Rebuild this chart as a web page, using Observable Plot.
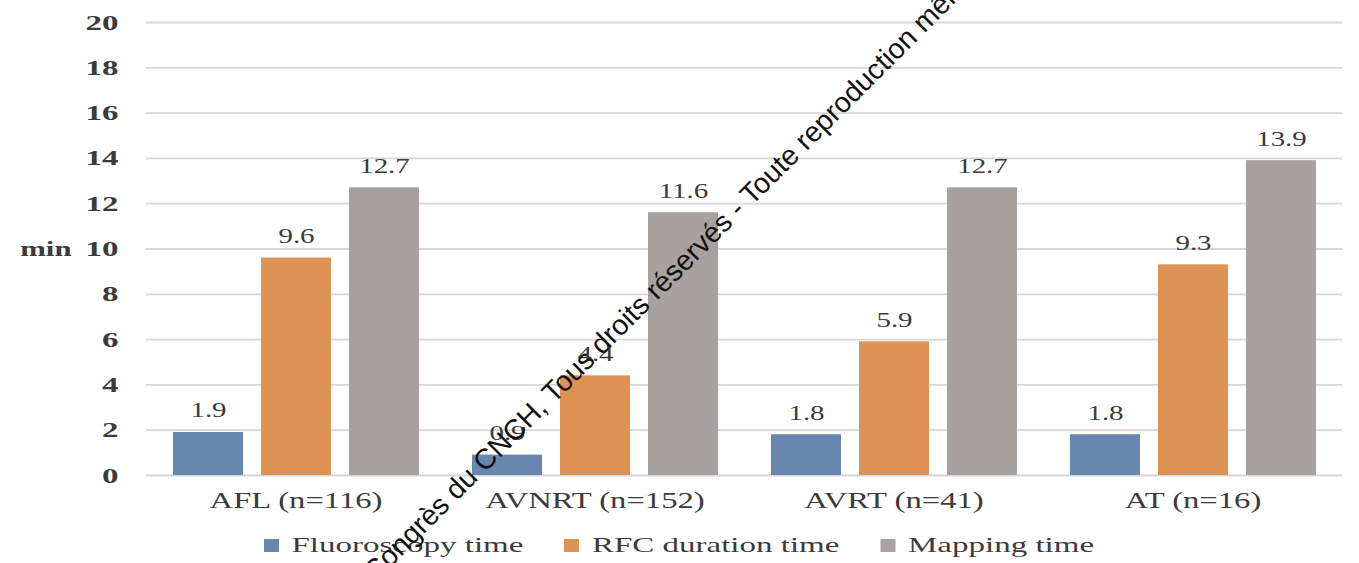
<!DOCTYPE html>
<html>
<head>
<meta charset="utf-8">
<script src="https://cdn.jsdelivr.net/npm/d3@7"></script>
<script src="https://cdn.jsdelivr.net/npm/@observablehq/plot@0.6"></script>
<style>
  html, body { margin: 0; padding: 0; background: #fff; }
  #wrap { position: relative; width: 1359px; height: 563px; overflow: hidden; background: #fff; }
  #chart { position: absolute; left: 0; top: 0; }
  #legend {
    position: absolute; left: 0; top: 532px; width: 1359px;
    display: flex; justify-content: center; align-items: center;
    font-family: "Liberation Serif", "Times New Roman", serif; font-size: 22px; color: #3b3b3b;
    transform: scaleX(1.5); transform-origin: 681px 50%;
  }
  #legend .item { display: flex; align-items: center; margin: 0 13.5px; }
  #legend .swatch { width: 10px; height: 13px; margin-right: 8.7px; }
  #legend .label { white-space: nowrap; line-height: normal; }
  #stamp { position: absolute; left: 0; top: 0; pointer-events: none; }
</style>
</head>
<body>
<div id="wrap">
  <div id="chart"></div>
  <div id="legend"></div>
  <svg id="stamp" width="1359" height="563"></svg>
</div>
<script>
// Procedure times by arrhythmia type (minutes)
const categories = ["AFL (n=116)", "AVNRT (n=152)", "AVRT (n=41)", "AT (n=16)"];
const series = ["Fluoroscopy time", "RFC duration time", "Mapping time"];
const fluoroscopyTime = [1.9, 0.9, 1.8, 1.8];
const rfcDurationTime = [9.6, 4.4, 5.9, 9.3];
const mappingTime = [12.7, 11.6, 12.7, 13.9];
const yTicks = [0, 2, 4, 6, 8, 10, 12, 14, 16, 18, 20];
const yUnit = "min";
const seriesColors = ["#6886b0", "#de9253", "#a7a29f"];
const stampText = "Congrès du CNCH, Tous droits réservés - Toute reproduction même partielle interdite";

const seriesValues = [fluoroscopyTime, rfcDurationTime, mappingTime];
const rows = categories.flatMap((category, i) =>
  series.map((s, j) => ({category, series: s, value: seriesValues[j][i]}))
);

const textColor = "#3b3b3b";

const chart = Plot.plot({
  width: 1359,
  height: 525,
  marginTop: 22,
  marginBottom: 50,
  marginLeft: 145,
  marginRight: 17,
  style: {fontFamily: "'Liberation Serif', 'Times New Roman', serif", color: textColor, background: "transparent"},
  fx: {domain: categories, padding: 0, label: null},
  x: {domain: series, paddingInner: 0.205, paddingOuter: 0.295, axis: null},
  y: {domain: [0, 20], axis: null},
  color: {domain: series, range: seriesColors},
  marks: [
    Plot.gridY(yTicks, {stroke: "#d6d6d6", strokeOpacity: 1, strokeWidth: 1.8}),
    Plot.barY(rows, {fx: "category", x: "series", y: "value", fill: "series"}),
    Plot.text(rows, {
      fx: "category", x: "series", y: "value",
      text: d => d.value.toFixed(1),
      lineAnchor: "bottom", dy: -15, fontSize: 21, fill: textColor
    }),
    Plot.axisY(yTicks, {
      tickSize: 0, tickPadding: 28, fontSize: 22, fontWeight: "bold",
      tickFormat: d => String(d), label: null, fill: textColor
    }),
    Plot.axisFx({anchor: "bottom", tickSize: 0, tickPadding: 16, fontSize: 23, label: null, fill: textColor}),
    Plot.text([yUnit], {
      fx: [categories[0]], frameAnchor: "left", dx: -75, textAnchor: "end",
      fontSize: 22, fontWeight: "bold", fill: textColor
    })
  ]
});
document.getElementById("chart").appendChild(chart);

// The typeset labels are horizontally widened; stretch each about its anchor point.
function stretchText(root, filter, factor) {
  root.querySelectorAll("text").forEach(t => {
    if (!filter(t)) return;
    const x = parseFloat(t.getAttribute("x") || "0") || 0;
    t.removeAttribute("x");
    const prev = t.getAttribute("transform") || "";
    t.setAttribute("transform", `${prev} translate(${x},0) scale(${factor},1)`);
  });
}
const groupLabel = t => {
  const g = t.closest("g[aria-label]");
  return g ? g.getAttribute("aria-label") : "";
};
stretchText(chart, t => groupLabel(t) === "y-axis tick label", 1.5);
stretchText(chart, t => groupLabel(t) === "fx-axis tick label", 1.42);
stretchText(chart, t => groupLabel(t) === "text" && t.textContent === yUnit, 1.4);
stretchText(chart, t => groupLabel(t) === "text" && t.textContent !== yUnit, 1.38);

// Legend
const legend = document.getElementById("legend");
series.forEach((s, i) => {
  const item = document.createElement("div");
  item.className = "item";
  const sw = document.createElement("span");
  sw.className = "swatch";
  sw.style.background = seriesColors[i];
  const lb = document.createElement("span");
  lb.className = "label";
  lb.textContent = s;
  item.append(sw, lb);
  legend.appendChild(item);
});

// Copyright stamp running diagonally across the figure
d3.select("#stamp").append("text")
  .attr("transform", "translate(375,583) rotate(-45)")
  .attr("font-family", "'Liberation Sans', Arial, sans-serif")
  .attr("font-size", 28.5)
  .attr("fill", "#111")
  .text(stampText);
</script>
</body>
</html>
